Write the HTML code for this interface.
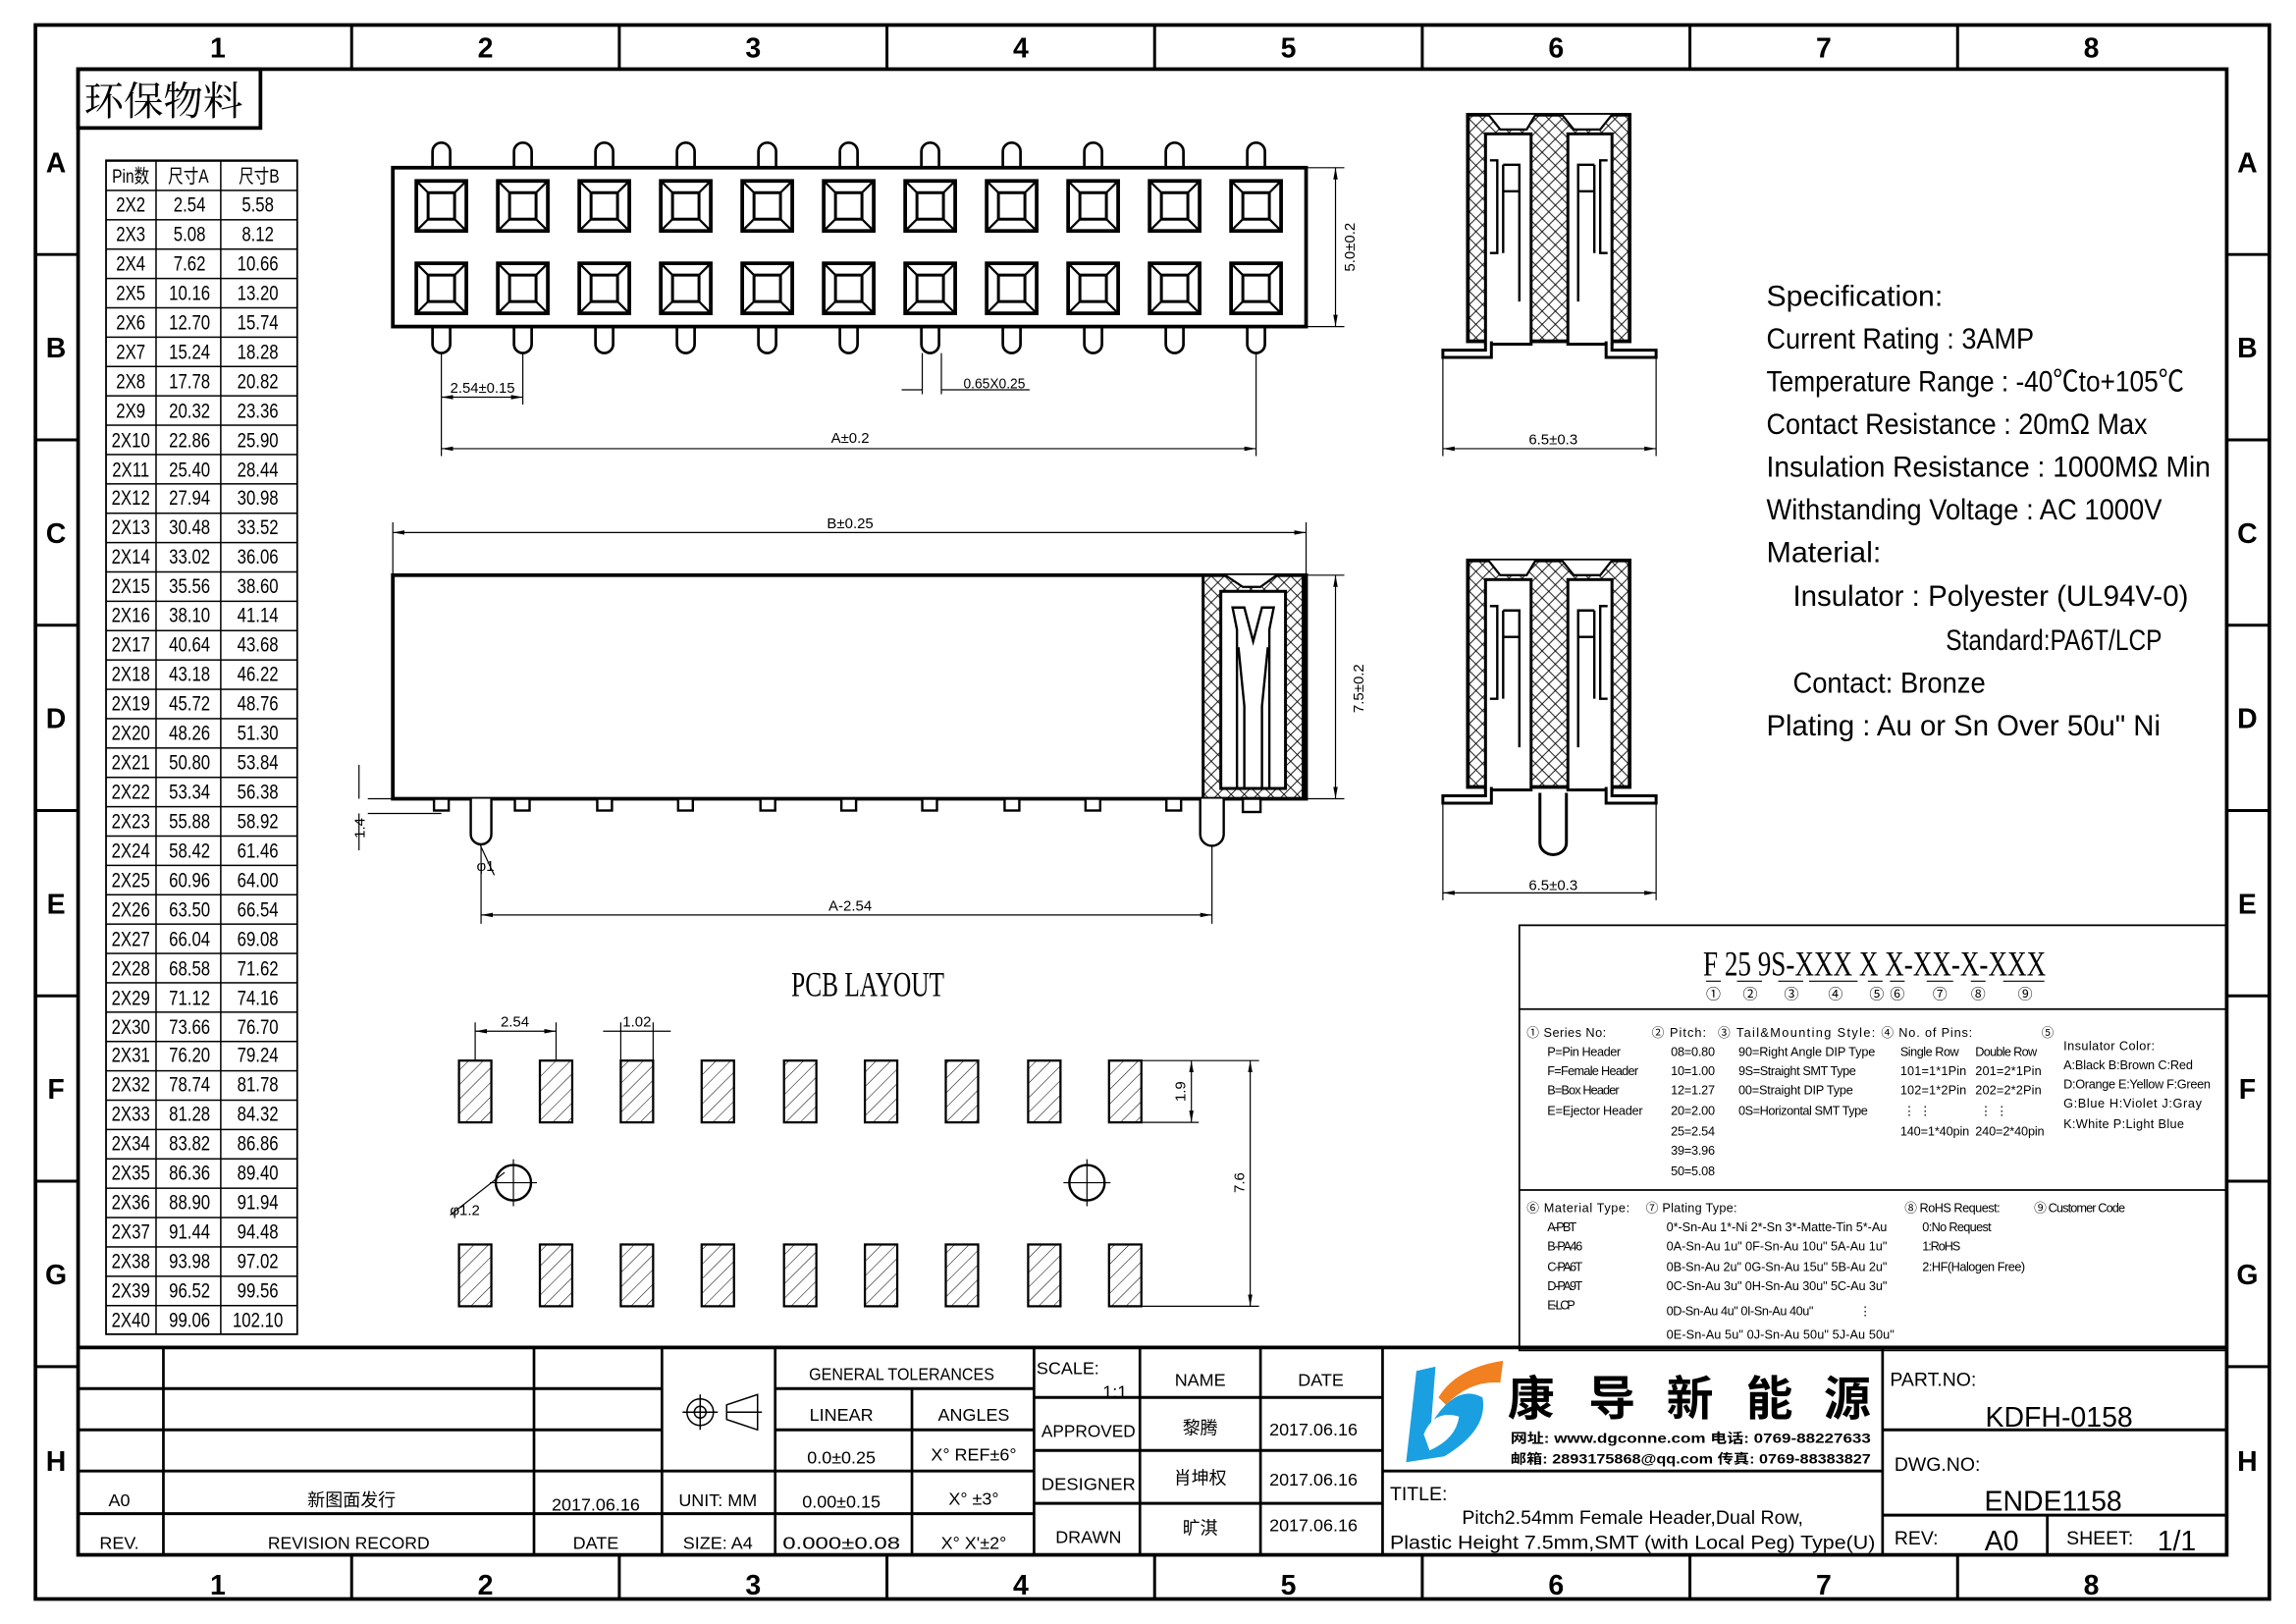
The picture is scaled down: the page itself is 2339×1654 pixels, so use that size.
<!DOCTYPE html>
<html><head><meta charset="utf-8"><style>
html,body{margin:0;padding:0;background:#fff}
svg{display:block}
text{font-family:"Liberation Sans","Noto Sans CJK SC",sans-serif;fill:#000}
.s{font-family:"Liberation Serif","Noto Serif CJK SC",serif}
</style></head><body>
<svg width="2339" height="1654" viewBox="0 0 1561 1104" xmlns="http://www.w3.org/2000/svg">
<defs>
<pattern id="xh" width="9" height="9" patternUnits="userSpaceOnUse"><path d="M0,0L9,9M9,0L0,9" stroke="#000" stroke-width="0.6"/></pattern>
<pattern id="dh" width="7" height="7" patternUnits="userSpaceOnUse" patternTransform="rotate(45)"><path d="M0,0V7" stroke="#000" stroke-width="0.7"/></pattern>
<pattern id="rows" x="0" y="109" width="200" height="19.95" patternUnits="userSpaceOnUse"><path d="M0,0.5H200" stroke="#000" stroke-width="1"/></pattern>
<marker id="ar" markerWidth="8" markerHeight="6" refX="8" refY="3" orient="auto-start-reverse" markerUnits="userSpaceOnUse"><path d="M0,1.5L8,3L0,4.5z" fill="#000"/></marker>
<g id="pc" fill="none" stroke="#000">
<path d="M-6,114V103A6,6 0 0 1 6,103V114" stroke-width="1.8"/>
<path d="M-6,222V234A6,6 0 0 0 6,234V222" stroke-width="1.8"/>
<rect x="-17" y="123" width="34" height="34" stroke-width="2.5"/>
<rect x="-9" y="131" width="18" height="18" stroke-width="2"/>
<path d="M-17,123L-9,131M17,123L9,131M-17,157L-9,149M17,157L9,149" stroke-width="1.5"/>
<rect x="-17" y="179" width="34" height="34" stroke-width="2.5"/>
<rect x="-9" y="187" width="18" height="18" stroke-width="2"/>
<path d="M-17,179L-9,187M17,179L9,187M-17,213L-9,205M17,213L9,205" stroke-width="1.5"/>
</g>
<g id="side">
<rect x="998" y="78" width="110" height="154" fill="url(#xh)" stroke="#000" stroke-width="2.5"/>
<rect x="1010" y="91" width="31" height="143" fill="#fff" stroke="#000" stroke-width="2"/>
<rect x="1066" y="91" width="30" height="143" fill="#fff" stroke="#000" stroke-width="2"/>
<path d="M1012,78L1020,88H1038L1044,78M1062,78L1070,88H1088L1096,78" fill="#fff" stroke="#000" stroke-width="1.5"/>
<path d="M1013,109H1018V172H1013M1022,112H1033V205M1022,112V172M1022,130H1033" fill="none" stroke="#000" stroke-width="1.6"/>
<path d="M1093,109H1088V172H1093M1084,112H1073V205M1084,112V172M1084,130H1073" fill="none" stroke="#000" stroke-width="1.6"/>
<path d="M1010,232V238H981V243H1014V232M1096,232V238H1126V243H1092V232" fill="#fff" stroke="#000" stroke-width="2"/>
</g>
</defs>
<rect width="1561" height="1104" fill="#fff"/>
<!-- frames -->
<rect x="24" y="17" width="1519" height="1070" fill="none" stroke="#000" stroke-width="2.5"/>
<rect x="53" y="47" width="1461" height="1010" fill="none" stroke="#000" stroke-width="2.5"/>
<g stroke="#000" stroke-width="2">
<path d="M239,17V47M421,17V47M603,17V47M785,17V47M967,17V47M1149,17V47M1331,17V47"/>
<path d="M239,1057V1087M421,1057V1087M603,1057V1087M785,1057V1087M967,1057V1087M1149,1057V1087M1331,1057V1087"/>
<path d="M24,173H53M24,299H53M24,425H53M24,551H53M24,677H53M24,803H53M24,929H53"/>
<path d="M1514,173H1543M1514,299H1543M1514,425H1543M1514,551H1543M1514,677H1543M1514,803H1543M1514,929H1543"/>
</g>
<g font-size="19" text-anchor="middle" font-weight="bold">
<text x="148" y="39">1</text><text x="330" y="39">2</text><text x="512" y="39">3</text><text x="694" y="39">4</text><text x="876" y="39">5</text><text x="1058" y="39">6</text><text x="1240" y="39">7</text><text x="1422" y="39">8</text>
<text x="148" y="1084">1</text><text x="330" y="1084">2</text><text x="512" y="1084">3</text><text x="694" y="1084">4</text><text x="876" y="1084">5</text><text x="1058" y="1084">6</text><text x="1240" y="1084">7</text><text x="1422" y="1084">8</text>
<text x="38" y="117">A</text><text x="38" y="243">B</text><text x="38" y="369">C</text><text x="38" y="495">D</text><text x="38" y="621">E</text><text x="38" y="747">F</text><text x="38" y="873">G</text><text x="38" y="1000">H</text>
<text x="1528" y="117">A</text><text x="1528" y="243">B</text><text x="1528" y="369">C</text><text x="1528" y="495">D</text><text x="1528" y="621">E</text><text x="1528" y="747">F</text><text x="1528" y="873">G</text><text x="1528" y="1000">H</text>
</g>
<!-- 环保物料 -->
<rect x="53" y="47" width="124" height="40" fill="none" stroke="#000" stroke-width="2.5"/>
<text x="57" y="78" font-size="27" style="font-family:'Noto Serif CJK SC',serif">环保物料</text>
<!-- pin table -->
<rect x="72" y="109" width="130" height="798" fill="url(#rows)" stroke="#000" stroke-width="1.2"/>
<path d="M106,109V907M150,109V907" stroke="#000" stroke-width="1"/>
<g transform="scale(0.8,1)" text-anchor="middle">
<g font-size="13">
<text x="111" y="124">Pin数</text><text x="160" y="124">尺寸A</text><text x="220" y="124">尺寸B</text>
</g>
<g font-size="14">
<text x="111" y="144">2X2</text><text x="161" y="144">2.54</text><text x="219" y="144">5.58</text>
<text x="111" y="164">2X3</text><text x="161" y="164">5.08</text><text x="219" y="164">8.12</text>
<text x="111" y="184">2X4</text><text x="161" y="184">7.62</text><text x="219" y="184">10.66</text>
<text x="111" y="204">2X5</text><text x="161" y="204">10.16</text><text x="219" y="204">13.20</text>
<text x="111" y="224">2X6</text><text x="161" y="224">12.70</text><text x="219" y="224">15.74</text>
<text x="111" y="244">2X7</text><text x="161" y="244">15.24</text><text x="219" y="244">18.28</text>
<text x="111" y="264">2X8</text><text x="161" y="264">17.78</text><text x="219" y="264">20.82</text>
<text x="111" y="284">2X9</text><text x="161" y="284">20.32</text><text x="219" y="284">23.36</text>
<text x="111" y="304">2X10</text><text x="161" y="304">22.86</text><text x="219" y="304">25.90</text>
<text x="111" y="324">2X11</text><text x="161" y="324">25.40</text><text x="219" y="324">28.44</text>
<text x="111" y="343">2X12</text><text x="161" y="343">27.94</text><text x="219" y="343">30.98</text>
<text x="111" y="363">2X13</text><text x="161" y="363">30.48</text><text x="219" y="363">33.52</text>
<text x="111" y="383">2X14</text><text x="161" y="383">33.02</text><text x="219" y="383">36.06</text>
<text x="111" y="403">2X15</text><text x="161" y="403">35.56</text><text x="219" y="403">38.60</text>
<text x="111" y="423">2X16</text><text x="161" y="423">38.10</text><text x="219" y="423">41.14</text>
<text x="111" y="443">2X17</text><text x="161" y="443">40.64</text><text x="219" y="443">43.68</text>
<text x="111" y="463">2X18</text><text x="161" y="463">43.18</text><text x="219" y="463">46.22</text>
<text x="111" y="483">2X19</text><text x="161" y="483">45.72</text><text x="219" y="483">48.76</text>
<text x="111" y="503">2X20</text><text x="161" y="503">48.26</text><text x="219" y="503">51.30</text>
<text x="111" y="523">2X21</text><text x="161" y="523">50.80</text><text x="219" y="523">53.84</text>
<text x="111" y="543">2X22</text><text x="161" y="543">53.34</text><text x="219" y="543">56.38</text>
<text x="111" y="563">2X23</text><text x="161" y="563">55.88</text><text x="219" y="563">58.92</text>
<text x="111" y="583">2X24</text><text x="161" y="583">58.42</text><text x="219" y="583">61.46</text>
<text x="111" y="603">2X25</text><text x="161" y="603">60.96</text><text x="219" y="603">64.00</text>
<text x="111" y="623">2X26</text><text x="161" y="623">63.50</text><text x="219" y="623">66.54</text>
<text x="111" y="643">2X27</text><text x="161" y="643">66.04</text><text x="219" y="643">69.08</text>
<text x="111" y="663">2X28</text><text x="161" y="663">68.58</text><text x="219" y="663">71.62</text>
<text x="111" y="683">2X29</text><text x="161" y="683">71.12</text><text x="219" y="683">74.16</text>
<text x="111" y="703">2X30</text><text x="161" y="703">73.66</text><text x="219" y="703">76.70</text>
<text x="111" y="722">2X31</text><text x="161" y="722">76.20</text><text x="219" y="722">79.24</text>
<text x="111" y="742">2X32</text><text x="161" y="742">78.74</text><text x="219" y="742">81.78</text>
<text x="111" y="762">2X33</text><text x="161" y="762">81.28</text><text x="219" y="762">84.32</text>
<text x="111" y="782">2X34</text><text x="161" y="782">83.82</text><text x="219" y="782">86.86</text>
<text x="111" y="802">2X35</text><text x="161" y="802">86.36</text><text x="219" y="802">89.40</text>
<text x="111" y="822">2X36</text><text x="161" y="822">88.90</text><text x="219" y="822">91.94</text>
<text x="111" y="842">2X37</text><text x="161" y="842">91.44</text><text x="219" y="842">94.48</text>
<text x="111" y="862">2X38</text><text x="161" y="862">93.98</text><text x="219" y="862">97.02</text>
<text x="111" y="882">2X39</text><text x="161" y="882">96.52</text><text x="219" y="882">99.56</text>
<text x="111" y="902">2X40</text><text x="161" y="902">99.06</text><text x="219" y="902">102.10</text>
</g>
</g>
<!-- top view -->
<rect x="267" y="114" width="621" height="108" fill="none" stroke="#000" stroke-width="2.5"/>
<use href="#pc" x="300"/><use href="#pc" x="355.4"/><use href="#pc" x="410.8"/><use href="#pc" x="466.2"/><use href="#pc" x="521.6"/><use href="#pc" x="577"/><use href="#pc" x="632.4"/><use href="#pc" x="687.8"/><use href="#pc" x="743.2"/><use href="#pc" x="798.6"/><use href="#pc" x="854"/>
<g stroke="#000" stroke-width="0.8" fill="none">
<path d="M300,240V310M355.4,240V275M854,240V310M888,114H914M888,222H914M627,240V268M640,240V268"/>
<path d="M300,270H355.4" marker-start="url(#ar)" marker-end="url(#ar)"/>
<path d="M300,305H854" marker-start="url(#ar)" marker-end="url(#ar)"/>
<path d="M908,114V222" marker-start="url(#ar)" marker-end="url(#ar)"/>
<path d="M613,265H627M654,265H640M640,265H700" />
</g>
<g font-size="10" text-anchor="middle">
<text x="328" y="267" textLength="44" lengthAdjust="spacingAndGlyphs">2.54±0.15</text>
<text x="676" y="264" textLength="42" lengthAdjust="spacingAndGlyphs">0.65X0.25</text>
<text x="578" y="301">A±0.2</text>
<text transform="translate(921,168) rotate(-90)">5.0±0.2</text>
</g>
<!-- front view -->
<g stroke="#000" stroke-width="0.8" fill="none">
<path d="M267,391V355M888,391V355"/>
<path d="M267,362H888" marker-start="url(#ar)" marker-end="url(#ar)"/>
<path d="M888,391H914M888,543H914"/>
<path d="M908,391V543" marker-start="url(#ar)" marker-end="url(#ar)"/>
<path d="M250,543H300M250,553H300M244,520V543M244,553V578"/>
<path d="M322,565L336,595M327,575V628M824,575V628"/>
<path d="M327,622H824" marker-start="url(#ar)" marker-end="url(#ar)"/>
</g>
<g font-size="10" text-anchor="middle">
<text x="578" y="359">B±0.25</text>
<text x="578" y="619">A-2.54</text>
<text transform="translate(927,468) rotate(-90)">7.5±0.2</text>
<text transform="translate(248,563) rotate(-90)">1.4</text>
<text x="330" y="592">φ1</text>
</g>
<rect x="267" y="391" width="621" height="152" fill="#fff" stroke="#000" stroke-width="2.5"/>
<rect x="818" y="391" width="68" height="152" fill="url(#xh)" stroke="#000" stroke-width="2"/>
<rect x="830" y="402" width="44" height="134" fill="#fff" stroke="#000" stroke-width="2"/>
<path d="M833,391L845,399H857L868,391" fill="#fff" stroke="#000" stroke-width="1.5"/>
<path d="M832,536H873M841,536V428L838,413H846L852,436L858,413H866L863,428V536M846,536V480L842,440M858,536V480L862,440" fill="none" stroke="#000" stroke-width="1.6"/>
<g fill="#fff" stroke="#000" stroke-width="1.6">
<rect x="295" y="543" width="10" height="8"/><rect x="350" y="543" width="10" height="8"/><rect x="406" y="543" width="10" height="8"/><rect x="461" y="543" width="10" height="8"/><rect x="517" y="543" width="10" height="8"/><rect x="572" y="543" width="10" height="8"/><rect x="627" y="543" width="10" height="8"/><rect x="683" y="543" width="10" height="8"/><rect x="738" y="543" width="10" height="8"/><rect x="793" y="543" width="10" height="8"/><rect x="845" y="543" width="12" height="9"/>
<path d="M320,543V567A7,7 0 0 0 334,567V543"/>
<path d="M816,543V567A8,8 0 0 0 832,567V543"/>
</g>
<!-- side views -->
<use href="#side"/>
<g stroke="#000" stroke-width="0.8" fill="none">
<path d="M981,243V310M1126,243V310"/>
<path d="M981,305H1126" marker-start="url(#ar)" marker-end="url(#ar)"/>
<path d="M981,546V612M1126,546V612"/>
<path d="M981,607H1126" marker-start="url(#ar)" marker-end="url(#ar)"/>
</g>
<text x="1056" y="302" font-size="10" text-anchor="middle">6.5±0.3</text>
<text x="1056" y="605" font-size="10" text-anchor="middle">6.5±0.3</text>
<g transform="translate(0,303)">
<path d="M1047,236V270A9,8 0 0 0 1065,270V236" fill="#fff" stroke="#000" stroke-width="2"/>
<use href="#side"/>
</g>
<!-- spec -->
<g font-size="20" class="s">
<text x="1201" y="208" textLength="120" lengthAdjust="spacingAndGlyphs">Specification:</text>
<text x="1201" y="237" textLength="182" lengthAdjust="spacingAndGlyphs">Current Rating : 3AMP</text>
<text x="1201" y="266" textLength="284" lengthAdjust="spacingAndGlyphs">Temperature Range : -40℃to+105℃</text>
<text x="1201" y="295" textLength="259" lengthAdjust="spacingAndGlyphs">Contact Resistance : 20mΩ Max</text>
<text x="1201" y="324" textLength="302" lengthAdjust="spacingAndGlyphs">Insulation Resistance : 1000MΩ Min</text>
<text x="1201" y="353" textLength="269" lengthAdjust="spacingAndGlyphs">Withstanding Voltage : AC 1000V</text>
<text x="1201" y="382" textLength="78" lengthAdjust="spacingAndGlyphs">Material:</text>
<text x="1219" y="412" textLength="269" lengthAdjust="spacingAndGlyphs">Insulator : Polyester (UL94V-0)</text>
<text x="1323" y="442" textLength="147" lengthAdjust="spacingAndGlyphs">Standard:PA6T/LCP</text>
<text x="1219" y="471" textLength="131" lengthAdjust="spacingAndGlyphs">Contact: Bronze</text>
<text x="1201" y="500" textLength="268" lengthAdjust="spacingAndGlyphs">Plating : Au or Sn Over 50u" Ni</text>
</g>
<!-- PCB layout -->
<text x="538" y="677" font-size="24" class="s" textLength="104" lengthAdjust="spacingAndGlyphs">PCB LAYOUT</text>
<g fill="url(#dh)" stroke="#000" stroke-width="1.5">
<rect x="312" y="721" width="22" height="42"/><rect x="367" y="721" width="22" height="42"/><rect x="422" y="721" width="22" height="42"/><rect x="477" y="721" width="22" height="42"/><rect x="533" y="721" width="22" height="42"/><rect x="588" y="721" width="22" height="42"/><rect x="643" y="721" width="22" height="42"/><rect x="699" y="721" width="22" height="42"/><rect x="754" y="721" width="22" height="42"/>
<rect x="312" y="846" width="22" height="42"/><rect x="367" y="846" width="22" height="42"/><rect x="422" y="846" width="22" height="42"/><rect x="477" y="846" width="22" height="42"/><rect x="533" y="846" width="22" height="42"/><rect x="588" y="846" width="22" height="42"/><rect x="643" y="846" width="22" height="42"/><rect x="699" y="846" width="22" height="42"/><rect x="754" y="846" width="22" height="42"/>
</g>
<g fill="none" stroke="#000">
<circle cx="349" cy="804" r="12" stroke-width="1.6"/><circle cx="739" cy="804" r="12" stroke-width="1.6"/>
<path d="M333,804H365M349,788V820M723,804H755M739,788V820" stroke-width="0.8"/>
<path d="M323,721V695M378,721V695M422,721V695M444,721V695M776,721H815M776,763H815M776,888H856M776,721H856M306,826L343,797" stroke-width="0.8"/>
<path d="M323,701H378" stroke-width="0.8" marker-start="url(#ar)" marker-end="url(#ar)"/>
<path d="M410,701H422M456,701H444M422,701H444" stroke-width="0.8"/>
<path d="M810,721V763" stroke-width="0.8" marker-start="url(#ar)" marker-end="url(#ar)"/>
<path d="M850,721V888" stroke-width="0.8" marker-start="url(#ar)" marker-end="url(#ar)"/>
</g>
<g font-size="10" text-anchor="middle">
<text x="350" y="698">2.54</text><text x="433" y="698">1.02</text>
<text transform="translate(806,742) rotate(-90)">1.9</text>
<text transform="translate(846,804) rotate(-90)">7.6</text>
<text x="316" y="826">φ1.2</text>
</g>
<!-- part number box -->
<rect x="1033" y="629" width="481" height="289" fill="none" stroke="#000" stroke-width="1.2"/>
<path d="M1033,686H1514M1033,809H1514" stroke="#000" stroke-width="1.2"/>
<text x="1158" y="663" font-size="24" class="s" textLength="233" lengthAdjust="spacingAndGlyphs">F 25 9S-XXX X X-XX-X-XXX</text>
<path d="M1160,667h10M1181,667h17M1209,667h17M1230,667h33M1270,667h10M1285,667h10M1310,667h18M1340,667h10M1362,667h28" stroke="#000" stroke-width="0.8"/>
<g font-size="10" text-anchor="middle" class="s">
<text x="1165" y="679">①</text><text x="1190" y="679">②</text><text x="1218" y="679">③</text><text x="1248" y="679">④</text><text x="1276" y="679">⑤</text><text x="1290" y="679">⑥</text><text x="1319" y="679">⑦</text><text x="1345" y="679">⑧</text><text x="1377" y="679">⑨</text>
</g>
<g font-size="8.5" lengthAdjust="spacingAndGlyphs">
<text x="1038" y="705" textLength="54">① Series No:</text>
<text x="1052" y="718" textLength="50">P=Pin Header</text><text x="1052" y="731" textLength="62">F=Female Header</text><text x="1052" y="744" textLength="49">B=Box Header</text><text x="1052" y="758" textLength="65">E=Ejector Header</text>
<text x="1123" y="705" textLength="37">② Pitch:</text>
<text x="1136" y="718" textLength="30">08=0.80</text><text x="1136" y="731" textLength="30">10=1.00</text><text x="1136" y="744" textLength="30">12=1.27</text><text x="1136" y="758" textLength="30">20=2.00</text><text x="1136" y="772" textLength="30">25=2.54</text><text x="1136" y="785" textLength="30">39=3.96</text><text x="1136" y="799" textLength="30">50=5.08</text>
<text x="1168" y="705" textLength="107">③ Tail&amp;Mounting Style:</text>
<text x="1182" y="718" textLength="93">90=Right Angle DIP Type</text><text x="1182" y="731" textLength="80">9S=Straight SMT Type</text><text x="1182" y="744" textLength="78">00=Straight DIP Type</text><text x="1182" y="758" textLength="88">0S=Horizontal SMT Type</text>
<text x="1279" y="705" textLength="62">④ No. of Pins:</text>
<text x="1292" y="718" textLength="40">Single Row</text><text x="1343" y="718" textLength="42">Double Row</text>
<text x="1292" y="731" textLength="45">101=1*1Pin</text><text x="1343" y="731" textLength="45">201=2*1Pin</text>
<text x="1292" y="744" textLength="45">102=1*2Pin</text><text x="1343" y="744" textLength="45">202=2*2Pin</text>
<text x="1294" y="758">⋮  ⋮</text><text x="1346" y="758">⋮  ⋮</text>
<text x="1292" y="772" textLength="47">140=1*40pin</text><text x="1343" y="772" textLength="47">240=2*40pin</text>
<text x="1388" y="705">⑤</text>
<text x="1403" y="714" textLength="62">Insulator Color:</text>
<text x="1403" y="727" textLength="88">A:Black  B:Brown  C:Red</text>
<text x="1403" y="740" textLength="100">D:Orange E:Yellow F:Green</text>
<text x="1403" y="753" textLength="94">G:Blue   H:Violet J:Gray</text>
<text x="1403" y="767" textLength="82">K:White  P:Light Blue</text>
<text x="1038" y="824" textLength="70">⑥ Material Type:</text>
<text x="1052" y="837" textLength="20">A-PBT</text><text x="1052" y="850" textLength="24">B-PA46</text><text x="1052" y="864" textLength="24">C-PA6T</text><text x="1052" y="877" textLength="24">D-PA9T</text><text x="1052" y="890" textLength="19">E-LCP</text>
<text x="1119" y="824" textLength="62">⑦ Plating Type:</text>
<text x="1133" y="837" textLength="150">0*-Sn-Au 1*-Ni 2*-Sn 3*-Matte-Tin 5*-Au</text>
<text x="1133" y="850" textLength="150">0A-Sn-Au 1u" 0F-Sn-Au 10u"  5A-Au 1u"</text>
<text x="1133" y="864" textLength="150">0B-Sn-Au 2u" 0G-Sn-Au 15u"  5B-Au 2u"</text>
<text x="1133" y="877" textLength="150">0C-Sn-Au 3u" 0H-Sn-Au 30u"  5C-Au 3u"</text>
<text x="1133" y="894" textLength="100">0D-Sn-Au 4u" 0I-Sn-Au 40u"</text><text x="1264" y="894">⋮</text>
<text x="1133" y="910" textLength="155">0E-Sn-Au 5u" 0J-Sn-Au 50u"  5J-Au 50u"</text>
<text x="1295" y="824" textLength="65">⑧ RoHS Request:</text>
<text x="1307" y="837" textLength="47">0:No Request</text><text x="1307" y="850" textLength="26">1:RoHS</text><text x="1307" y="864" textLength="70">2:HF(Halogen Free)</text>
<text x="1383" y="824" textLength="62">⑨ Customer Code</text>
</g>
<!-- title block -->
<g stroke="#000" fill="none">
<path d="M53,916H1514" stroke-width="2.5"/>
<path d="M53,944H450M527,944H703M53,972H450M527,972H703M53,1000H703M53,1029H703M703,950H940M703,986H940M703,1022H940M940,1000H1280M1280,972H1514M1280,1030H1514" stroke-width="2"/>
<path d="M111,916V1057M363,916V1057M450,916V1057M527,916V1057M620,944V1057M703,916V1057M775,916V1057M857,916V1057M940,916V1057M1280,916V1057M1392,1030V1057" stroke-width="1.8"/>
<circle cx="476" cy="960" r="9" stroke-width="1"/><circle cx="476" cy="960" r="4" stroke-width="1"/>
<path d="M464,960H488M476,948V972M494,960H518M494,955V965L515,972V948Z" stroke-width="1"/>
</g>
<g font-size="12" text-anchor="middle" class="s">
<text x="81" y="1024">A0</text><text x="239" y="1024" style="font-family:'Noto Sans CJK SC',sans-serif">新图面发行</text><text x="405" y="1027">2017.06.16</text>
<text x="81" y="1053">REV.</text><text x="237" y="1053" textLength="110" lengthAdjust="spacingAndGlyphs">REVISION RECORD</text><text x="405" y="1053">DATE</text>
<text x="488" y="1024">UNIT: MM</text><text x="488" y="1053">SIZE: A4</text>
<text x="613" y="938" textLength="126" lengthAdjust="spacingAndGlyphs">GENERAL TOLERANCES</text>
<text x="572" y="966">LINEAR</text><text x="662" y="966">ANGLES</text>
<text x="572" y="995">0.0±0.25</text><text x="662" y="993">X° REF±6°</text>
<text x="572" y="1025">0.00±0.15</text><text x="662" y="1023">X° ±3°</text>
<text x="572" y="1053" textLength="80" lengthAdjust="spacingAndGlyphs">0.000±0.08</text><text x="662" y="1053">X° X'±2°</text>
<text x="726" y="934">SCALE:</text><text x="758" y="950">1:1</text>
<text x="816" y="942">NAME</text><text x="898" y="942">DATE</text>
<text x="740" y="977" textLength="64" lengthAdjust="spacingAndGlyphs">APPROVED</text><text x="816" y="975" style="font-family:'Noto Sans CJK SC',sans-serif">黎腾</text><text x="893" y="976">2017.06.16</text>
<text x="740" y="1013" textLength="64" lengthAdjust="spacingAndGlyphs">DESIGNER</text><text x="816" y="1009" style="font-family:'Noto Sans CJK SC',sans-serif">肖坤权</text><text x="893" y="1010">2017.06.16</text>
<text x="740" y="1049">DRAWN</text><text x="816" y="1043" style="font-family:'Noto Sans CJK SC',sans-serif">旷淇</text><text x="893" y="1041">2017.06.16</text>
</g>
<!-- logo -->
<path d="M963,932L976,929L973,968Q990,940 1008,950Q1012,972 982,990L956,994Z" fill="#1aa0e0"/>
<path d="M968,975Q975,958 992,963Q990,978 972,986Z" fill="#fff"/>
<path d="M978,950Q990,930 1022,925L1020,940Q1000,938 983,955Z" fill="#f08020"/>
<g font-size="32" font-weight="bold" style="font-family:'Noto Sans CJK SC',sans-serif">
<text x="1025" y="962">康</text><text x="1080" y="962">导</text><text x="1133" y="962">新</text><text x="1187" y="962">能</text><text x="1240" y="962">源</text>
</g>
<g font-size="9" font-weight="bold">
<text x="1027" y="981" textLength="245" lengthAdjust="spacingAndGlyphs">网址: www.dgconne.com    电话: 0769-88227633</text>
<text x="1027" y="995" textLength="245" lengthAdjust="spacingAndGlyphs">邮箱: 2893175868@qq.com 传真: 0769-88383827</text>
</g>
<g font-size="13" class="s">
<text x="945" y="1020">TITLE:</text>
<text x="1110" y="1036" text-anchor="middle" textLength="232" lengthAdjust="spacingAndGlyphs">Pitch2.54mm Female Header,Dual Row,</text>
<text x="1110" y="1053" text-anchor="middle" textLength="330" lengthAdjust="spacingAndGlyphs">Plastic Height 7.5mm,SMT (with Local Peg) Type(U)</text>
<text x="1285" y="942">PART.NO:</text>
<text x="1288" y="1000">DWG.NO:</text>
<text x="1288" y="1050">REV:</text>
<text x="1405" y="1050">SHEET:</text>
</g>
<g font-size="19" class="s" text-anchor="middle">
<text x="1400" y="970">KDFH-0158</text>
<text x="1396" y="1027">ENDE1158</text>
<text x="1361" y="1054">A0</text>
<text x="1480" y="1054">1/1</text>
</g>
</svg>
</body></html>
